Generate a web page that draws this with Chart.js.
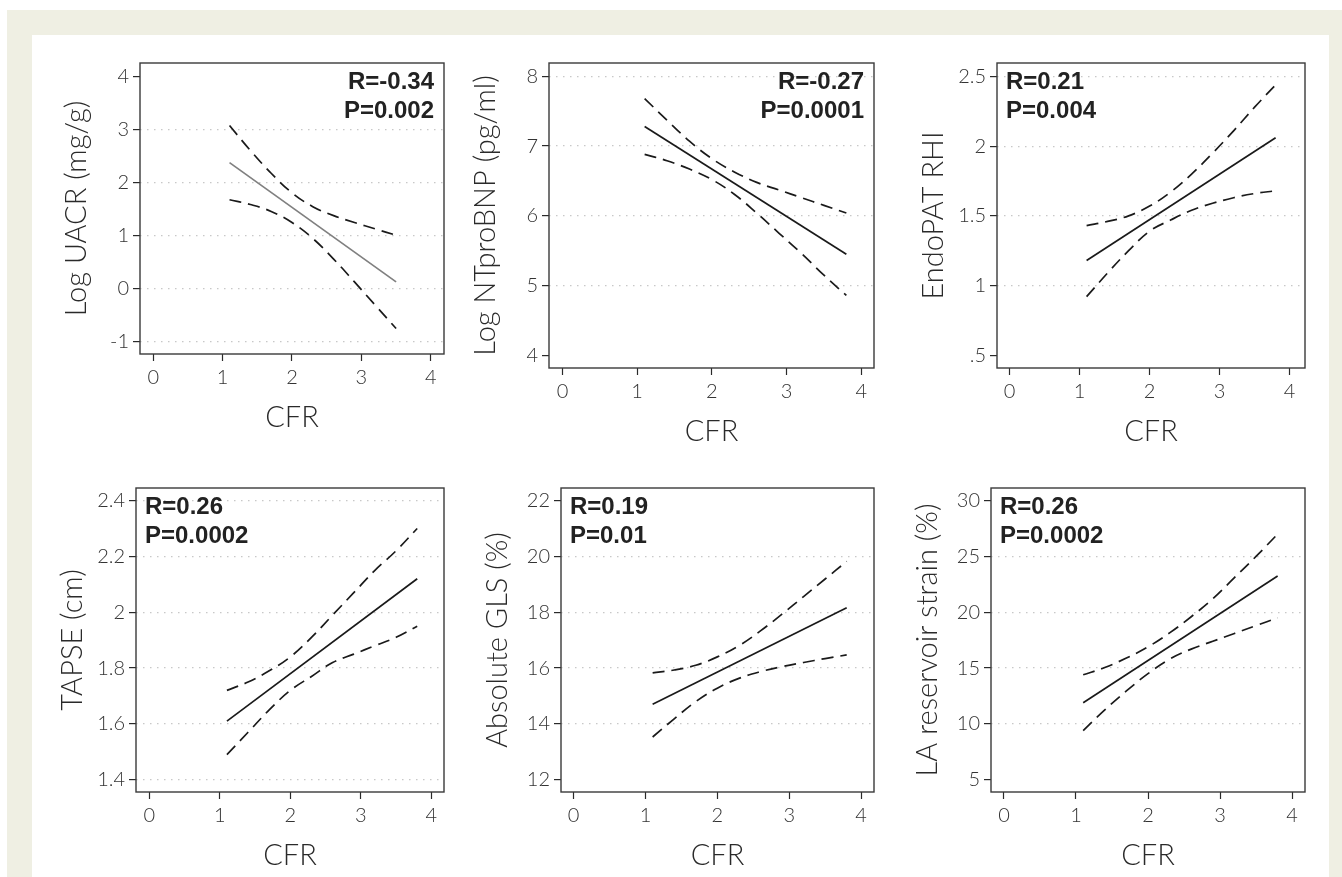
<!DOCTYPE html>
<html>
<head>
<meta charset="utf-8">
<title>CFR correlations</title>
<script src="https://cdn.jsdelivr.net/npm/chart.js@4.4.1/dist/chart.umd.min.js"></script>
<style>
  html, body { margin: 0; padding: 0; background: #fff; }
  body { width: 1342px; height: 877px; position: relative; overflow: hidden; }
  .frame { position: absolute; left: 7px; top: 10px; width: 1335px; height: 867px; background: #efefe3; }
  .inner { position: absolute; left: 32px; top: 35px; width: 1297px; height: 842px; background: #fff; }
  .panel { position: absolute; }
</style>
</head>
<body>
<div class="frame"></div>
<div class="inner"></div>
<div class="panel" id="p1"><canvas id="c1"></canvas></div>
<div class="panel" id="p2"><canvas id="c2"></canvas></div>
<div class="panel" id="p3"><canvas id="c3"></canvas></div>
<div class="panel" id="p4"><canvas id="c4"></canvas></div>
<div class="panel" id="p5"><canvas id="c5"></canvas></div>
<div class="panel" id="p6"><canvas id="c6"></canvas></div>
<script>
// CFR values for the confidence bands, and the ends of the fitted lines
const cfrShort = [1.1, 1.4, 1.7, 2.0, 2.3, 2.6, 2.9, 3.2, 3.5];
const cfrLong  = [1.1, 1.4, 1.7, 2.0, 2.3, 2.6, 2.9, 3.2, 3.5, 3.8];
const cfrShortEnds = [1.1, 3.5];
const cfrLongEnds  = [1.1, 3.8];
const xTicks = [0, 1, 2, 3, 4];

// Log UACR
const uacrFit   = [2.37, 0.12];
const uacrUpper = [3.07, 2.60, 2.17, 1.80, 1.54, 1.37, 1.24, 1.12, 1.00];
const uacrLower = [1.67, 1.58, 1.45, 1.24, 0.94, 0.55, 0.12, -0.32, -0.76];
const uacrTicks = [-1, 0, 1, 2, 3, 4];

// Log NTproBNP
const bnpFit   = [7.28, 5.45];
const bnpUpper = [7.68, 7.37, 7.07, 6.82, 6.63, 6.48, 6.37, 6.26, 6.15, 6.04];
const bnpLower = [6.88, 6.79, 6.67, 6.52, 6.31, 6.04, 5.75, 5.46, 5.15, 4.86];
const bnpTicks = [4, 5, 6, 7, 8];

// EndoPAT RHI
const rhiFit   = [1.18, 2.06];
const rhiUpper = [1.43, 1.46, 1.50, 1.57, 1.67, 1.80, 1.95, 2.11, 2.28, 2.44];
const rhiLower = [0.92, 1.09, 1.25, 1.39, 1.47, 1.54, 1.59, 1.63, 1.66, 1.68];
const rhiTicks = [0.5, 1, 1.5, 2, 2.5];

// TAPSE
const tapseFit   = [1.61, 2.12];
const tapseUpper = [1.72, 1.75, 1.79, 1.84, 1.91, 1.99, 2.07, 2.15, 2.22, 2.30];
const tapseLower = [1.49, 1.57, 1.65, 1.72, 1.77, 1.82, 1.85, 1.88, 1.91, 1.95];
const tapseTicks = [1.4, 1.6, 1.8, 2.0, 2.2, 2.4];

// Absolute GLS
const glsFit   = [14.70, 18.16];
const glsUpper = [15.83, 15.93, 16.10, 16.40, 16.80, 17.33, 17.93, 18.56, 19.19, 19.82];
const glsLower = [13.53, 14.18, 14.80, 15.28, 15.63, 15.87, 16.05, 16.20, 16.34, 16.47];
const glsTicks = [12, 14, 16, 18, 20, 22];

// LA reservoir strain
const laFit   = [11.90, 23.24];
const laUpper = [14.40, 15.05, 15.90, 16.90, 18.15, 19.60, 21.20, 23.10, 25.00, 27.00];
const laLower = [9.40, 11.25, 12.95, 14.50, 15.80, 16.70, 17.40, 18.10, 18.80, 19.50];
const laTicks = [5, 10, 15, 20, 25, 30];

const tickFont = { family: "Lato, 'Open Sans', sans-serif", size: 20, weight: 300 };
const titleFont = { family: "Lato, 'Open Sans', sans-serif", size: 29, weight: 300 };
const INK = '#2a2a2a';

// plot box + R/P annotation
const boxPlugin = {
  id: 'box',
  afterDraw(chart, args, opts) {
    const { ctx, chartArea: a } = chart;
    ctx.save();
    ctx.strokeStyle = '#3a3a3a';
    ctx.lineWidth = 1.4;
    ctx.strokeRect(a.left, a.top, a.right - a.left, a.bottom - a.top);
    ctx.fillStyle = '#222';
    ctx.font = "bold 24px 'Liberation Sans', Arial, sans-serif";
    ctx.textBaseline = 'alphabetic';
    ctx.textAlign = opts.align;
    const x = opts.align === 'right' ? a.right - 10 : a.left + 9;
    opts.lines.forEach((t, i) => ctx.fillText(t, x, a.top + 26 + i * 29));
    ctx.restore();
  }
};

function pts(xs, ys) { return xs.map((x, i) => ({ x, y: ys[i] })); }

function makePanel(n, box, cfg) {
  const W = 81, PAD = 5;
  const wrap = document.getElementById('p' + n);
  const w = box[2] - box[0] + W + PAD, h = box[3] - box[1] + W + PAD;
  wrap.style.left = (box[0] - W) + 'px';
  wrap.style.top = (box[1] - PAD) + 'px';
  wrap.style.width = w + 'px';
  wrap.style.height = h + 'px';
  const fitColor = cfg.fitColor || '#1a1a1a';
  new Chart(document.getElementById('c' + n), {
    type: 'scatter',
    data: {
      datasets: [
        { data: pts(cfg.x, cfg.upper), showLine: true, borderColor: '#1a1a1a', borderWidth: 1.7, borderDash: [12, 7], pointRadius: 0, tension: 0.4 },
        { data: pts(cfg.x, cfg.lower), showLine: true, borderColor: '#1a1a1a', borderWidth: 1.7, borderDash: [12, 7], pointRadius: 0, tension: 0.4 },
        { data: pts(cfg.xEnds, cfg.fit), showLine: true, borderColor: fitColor, borderWidth: 1.7, pointRadius: 0, tension: 0 }
      ]
    },
    options: {
      responsive: true, maintainAspectRatio: false, animation: false,
      layout: { padding: { top: PAD, right: PAD, left: 0, bottom: 0 } },
      plugins: { legend: { display: false }, tooltip: { enabled: false }, box: { lines: cfg.note, align: cfg.align } },
      scales: {
        x: {
          type: 'linear', min: cfg.xr[0], max: cfg.xr[1],
          afterFit: s => { s.height = W; },
          afterBuildTicks: s => { s.ticks = xTicks.map(v => ({ value: v })); },
          border: { display: false },
          grid: { drawOnChartArea: false, drawTicks: true, tickLength: 7, tickColor: INK, tickWidth: 1.2 },
          ticks: { color: '#333', font: tickFont, padding: 5, maxRotation: 0, callback: v => String(v) },
          title: { display: true, text: 'CFR', color: '#2a2a2a', font: titleFont, padding: { top: 0, bottom: 0 } }
        },
        y: {
          type: 'linear', min: cfg.yr[0], max: cfg.yr[1],
          afterFit: s => { s.width = W; },
          afterBuildTicks: s => { s.ticks = cfg.yTicks.map(v => ({ value: v })); },
          border: { display: false, dash: [1.5, 5.5] },
          grid: {
            drawOnChartArea: true, drawTicks: true, tickLength: 7, tickWidth: 1.2, tickColor: INK, tickBorderDash: [],
            borderDash: [1.5, 5.5], lineWidth: 1.2,
            color: c => (c.tick && cfg.grid.includes(c.tick.value)) ? '#c8c8c8' : 'rgba(0,0,0,0)'
          },
          ticks: { color: '#333', font: tickFont, padding: 4, callback: v => cfg.yLabel(v) },
          title: { display: true, text: cfg.title, color: '#2a2a2a', font: titleFont, padding: { top: 0, bottom: 0 } }
        }
      }
    },
    plugins: [boxPlugin]
  });
}

const plain = v => String(v);

makePanel(1, [140, 52, 444, 354], {
  x: cfrShort, xEnds: cfrShortEnds, fit: uacrFit, upper: uacrUpper, lower: uacrLower, fitColor: '#808080',
  xr: [-0.19, 4.19], yr: [-1.24, 4.25], yTicks: uacrTicks, grid: [-1, 0, 1, 2, 3], yLabel: plain,
  title: 'Log UACR (mg/g)', note: ['R=-0.34', 'P=0.002'], align: 'right'
});
makePanel(2, [549, 52, 874, 368], {
  x: cfrLong, xEnds: cfrLongEnds, fit: bnpFit, upper: bnpUpper, lower: bnpLower,
  xr: [-0.18, 4.17], yr: [3.82, 8.19], yTicks: bnpTicks, grid: [5, 6, 7, 8], yLabel: plain,
  title: 'Log NTproBNP (pg/ml)', note: ['R=-0.27', 'P=0.0001'], align: 'right'
});
makePanel(3, [997, 52, 1305, 368], {
  x: cfrLong, xEnds: cfrLongEnds, fit: rhiFit, upper: rhiUpper, lower: rhiLower,
  xr: [-0.18, 4.22], yr: [0.408, 2.597], yTicks: rhiTicks, grid: [1, 1.5, 2, 2.5],
  yLabel: v => (v < 1 ? String(v).replace(/^0/, '') : String(v)),
  title: 'EndoPAT RHI', note: ['R=0.21', 'P=0.004'], align: 'left'
});
makePanel(4, [136, 477, 444, 792], {
  x: cfrLong, xEnds: cfrLongEnds, fit: tapseFit, upper: tapseUpper, lower: tapseLower,
  xr: [-0.19, 4.18], yr: [1.356, 2.445], yTicks: tapseTicks, grid: [1.4, 1.6, 1.8, 2.0, 2.2, 2.4], yLabel: plain,
  title: 'TAPSE (cm)', note: ['R=0.26', 'P=0.0002'], align: 'left'
});
makePanel(5, [561, 477, 874, 792], {
  x: cfrLong, xEnds: cfrLongEnds, fit: glsFit, upper: glsUpper, lower: glsLower,
  xr: [-0.175, 4.18], yr: [11.56, 22.45], yTicks: glsTicks, grid: [14, 16, 18, 20], yLabel: plain,
  title: 'Absolute GLS (%)', note: ['R=0.19', 'P=0.01'], align: 'left'
});
makePanel(6, [991, 477, 1305, 792], {
  x: cfrLong, xEnds: cfrLongEnds, fit: laFit, upper: laUpper, lower: laLower,
  xr: [-0.18, 4.18], yr: [3.9, 31.13], yTicks: laTicks, grid: [10, 15, 20, 25], yLabel: plain,
  title: 'LA reservoir strain (%)', note: ['R=0.26', 'P=0.0002'], align: 'left'
});
</script>
</body>
</html>
